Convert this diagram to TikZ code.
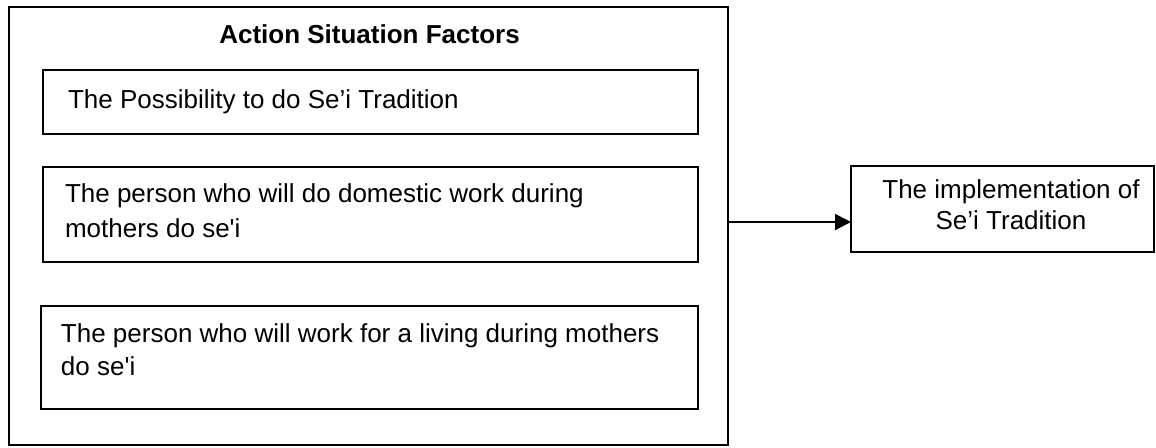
\documentclass[tikz,border=0pt]{standalone}
\usepackage{fontspec}
\setmainfont{Liberation Sans}
\usetikzlibrary{arrows.meta}
\begin{document}
\begin{tikzpicture}[x=0.5pt,y=-0.5pt,
  frame/.style={draw=black,line width=1pt,inner sep=0pt,outer sep=0pt,anchor=north west},
  txt/.style={inner sep=0pt,outer sep=0pt,anchor=base west,font=\fontsize{13pt}{15pt}\selectfont},
  ctxt/.style={inner sep=0pt,outer sep=0pt,anchor=base,font=\fontsize{13pt}{15pt}\selectfont},
  ttl/.style={inner sep=0pt,outer sep=0pt,anchor=base,font=\fontsize{13pt}{15pt}\selectfont\bfseries},
  arr/.style={line width=1pt,-{Triangle[length=8pt,width=8pt]}}]
\useasboundingbox (0,0) rectangle (1156,447);
% outer frame
\node[frame,minimum width=359.5pt,minimum height=219pt] (outer) at (8.5,7) {};
\node[ttl] (title) at (369.5,43) {Action Situation Factors};
% inner boxes
\node[frame,minimum width=327.5pt,minimum height=32pt] (b1) at (43,70) {};
\node[frame,minimum width=327.5pt,minimum height=47.5pt] (b2) at (43,167) {};
\node[frame,minimum width=328.5pt,minimum height=51.5pt] (b3) at (41,306) {};
\node[txt] (t1) at (68,108) {The Possibility to do Se’i Tradition};
\node[txt] (t2a) at (65,202) {The person who will do domestic work during};
\node[txt] (t2b) at (65,237) {mothers do se\textquotesingle i};
\node[txt] (t3a) at (61,342) {The person who will work for a living during mothers};
\node[txt] (t3b) at (61,375) {do se\textquotesingle i};
% right box
\node[frame,minimum width=151.5pt,minimum height=43pt] (rb) at (851,166) {};
\node[ctxt] (r1) at (1011,198) {The implementation of};
\node[ctxt] (r2) at (1011,229) {Se’i Tradition};
% arrow
\coordinate (ay) at (0,222);
\draw[arr] (outer.east |- ay) -- (rb.west |- ay);
\end{tikzpicture}
\end{document}
